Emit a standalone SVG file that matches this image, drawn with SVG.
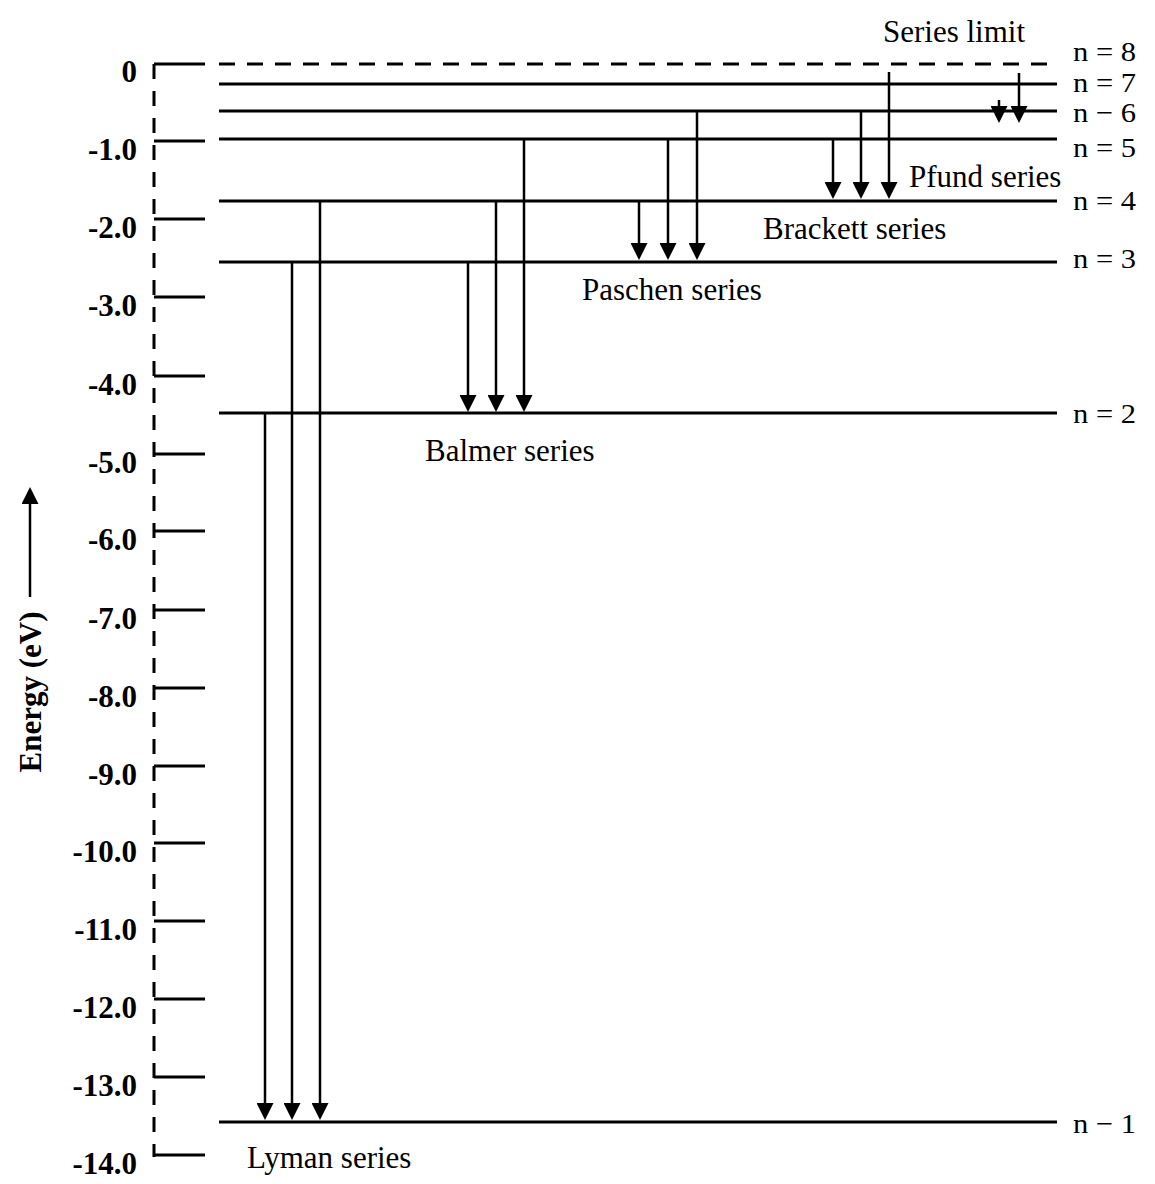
<svg xmlns="http://www.w3.org/2000/svg" width="1155" height="1184" viewBox="0 0 1155 1184">
<defs>
<style>
.lvl{stroke:#000;stroke-width:3;fill:none}
.dash{stroke:#000;stroke-width:3;fill:none;stroke-dasharray:16 12}
.ax{stroke:#000;stroke-width:3;fill:none;stroke-dasharray:15 12}
.tick{stroke:#000;stroke-width:3;fill:none}
.arr{stroke:#000;stroke-width:2.5;fill:none;marker-end:url(#ah)}
.t{font-family:"Liberation Serif","Times New Roman",serif;font-size:31px;fill:#000}
.n{font-family:"Liberation Serif","Times New Roman",serif;font-size:28px;fill:#000}
.b{font-family:"Liberation Serif","Times New Roman",serif;font-size:31px;font-weight:bold;fill:#000}
</style>
<marker id="ah" viewBox="0 0 17 17" refX="12" refY="8.5" markerWidth="17" markerHeight="17" markerUnits="userSpaceOnUse" orient="auto">
<path d="M0,0 L17,8.5 L0,17 z" fill="#000"/>
</marker>
</defs>
<rect width="1155" height="1184" fill="#fff"/>

<g id="axis">
<line class="ax" x1="154" y1="64" x2="154" y2="1157"/>
<g class="tick">
<line x1="154" y1="64" x2="205" y2="64"/>
<line x1="154" y1="141" x2="205" y2="141"/>
<line x1="154" y1="219" x2="205" y2="219"/>
<line x1="154" y1="297" x2="205" y2="297"/>
<line x1="154" y1="376" x2="205" y2="376"/>
<line x1="154" y1="454" x2="205" y2="454"/>
<line x1="154" y1="531" x2="205" y2="531"/>
<line x1="154" y1="610" x2="205" y2="610"/>
<line x1="154" y1="688" x2="205" y2="688"/>
<line x1="154" y1="766" x2="205" y2="766"/>
<line x1="154" y1="843" x2="205" y2="843"/>
<line x1="154" y1="921" x2="205" y2="921"/>
<line x1="154" y1="999" x2="205" y2="999"/>
<line x1="154" y1="1077" x2="205" y2="1077"/>
<line x1="154" y1="1155" x2="205" y2="1155"/>
</g>
<g class="b" text-anchor="end">
<text x="137" y="82">0</text>
<text x="137" y="160">-1.0</text>
<text x="137" y="238">-2.0</text>
<text x="137" y="316">-3.0</text>
<text x="137" y="395">-4.0</text>
<text x="137" y="473">-5.0</text>
<text x="137" y="550">-6.0</text>
<text x="137" y="629">-7.0</text>
<text x="137" y="707">-8.0</text>
<text x="137" y="785">-9.0</text>
<text x="137" y="862">-10.0</text>
<text x="137" y="940">-11.0</text>
<text x="137" y="1018">-12.0</text>
<text x="137" y="1096">-13.0</text>
<text x="137" y="1174">-14.0</text>
</g>
<text class="b" transform="translate(41,692) rotate(-90)" text-anchor="middle">Energy (eV)</text>
<line x1="30" y1="597" x2="30" y2="492" stroke="#000" stroke-width="2.5" marker-end="url(#ah)"/>
</g>

<g id="levels">
<g id="n8"><line class="dash" x1="219" y1="64" x2="1057" y2="64"/><text class="n" x="1073" y="61" textLength="63" lengthAdjust="spacingAndGlyphs">n = 8</text></g>
<g id="n7"><line class="lvl" x1="219" y1="84" x2="1057" y2="84"/><text class="n" x="1073" y="92" textLength="63" lengthAdjust="spacingAndGlyphs">n = 7</text></g>
<g id="n6"><line class="lvl" x1="219" y1="111" x2="1057" y2="111"/><text class="n" x="1073" y="122" textLength="63" lengthAdjust="spacingAndGlyphs">n − 6</text></g>
<g id="n5"><line class="lvl" x1="219" y1="139" x2="1057" y2="139"/><text class="n" x="1073" y="157" textLength="63" lengthAdjust="spacingAndGlyphs">n = 5</text></g>
<g id="n4"><line class="lvl" x1="219" y1="201" x2="1057" y2="201"/><text class="n" x="1073" y="210" textLength="63" lengthAdjust="spacingAndGlyphs">n = 4</text></g>
<g id="n3"><line class="lvl" x1="219" y1="262" x2="1057" y2="262"/><text class="n" x="1073" y="268" textLength="63" lengthAdjust="spacingAndGlyphs">n = 3</text></g>
<g id="n2"><line class="lvl" x1="219" y1="413" x2="1057" y2="413"/><text class="n" x="1073" y="423" textLength="63" lengthAdjust="spacingAndGlyphs">n = 2</text></g>
<g id="n1"><line class="lvl" x1="219" y1="1122" x2="1057" y2="1122"/><text class="n" x="1073" y="1133" textLength="63" lengthAdjust="spacingAndGlyphs">n − 1</text></g>
</g>

<g id="connectors">
<line class="arr" x1="265" y1="413" x2="265" y2="1115"/>
<line class="arr" x1="292" y1="262" x2="292" y2="1115"/>
<line class="arr" x1="320" y1="201" x2="320" y2="1115"/>
<line class="arr" x1="468" y1="262" x2="468" y2="407"/>
<line class="arr" x1="496" y1="201" x2="496" y2="407"/>
<line class="arr" x1="524" y1="139" x2="524" y2="407"/>
<line class="arr" x1="639" y1="201" x2="639" y2="255"/>
<line class="arr" x1="668" y1="139" x2="668" y2="255"/>
<line class="arr" x1="697" y1="111" x2="697" y2="255"/>
<line class="arr" x1="833" y1="139" x2="833" y2="194"/>
<line class="arr" x1="861" y1="111" x2="861" y2="194"/>
<line class="arr" x1="889" y1="72" x2="889" y2="194"/>
<line class="arr" x1="999" y1="100" x2="999" y2="118"/>
<line class="arr" x1="1019" y1="73" x2="1019" y2="118"/>
</g>

<g id="labels" class="t">
<text x="883" y="42">Series limit</text>
<text x="909" y="187">Pfund series</text>
<text x="763" y="239">Brackett series</text>
<text x="582" y="300">Paschen series</text>
<text x="425" y="461">Balmer series</text>
<text x="247" y="1168">Lyman series</text>
</g>
</svg>
